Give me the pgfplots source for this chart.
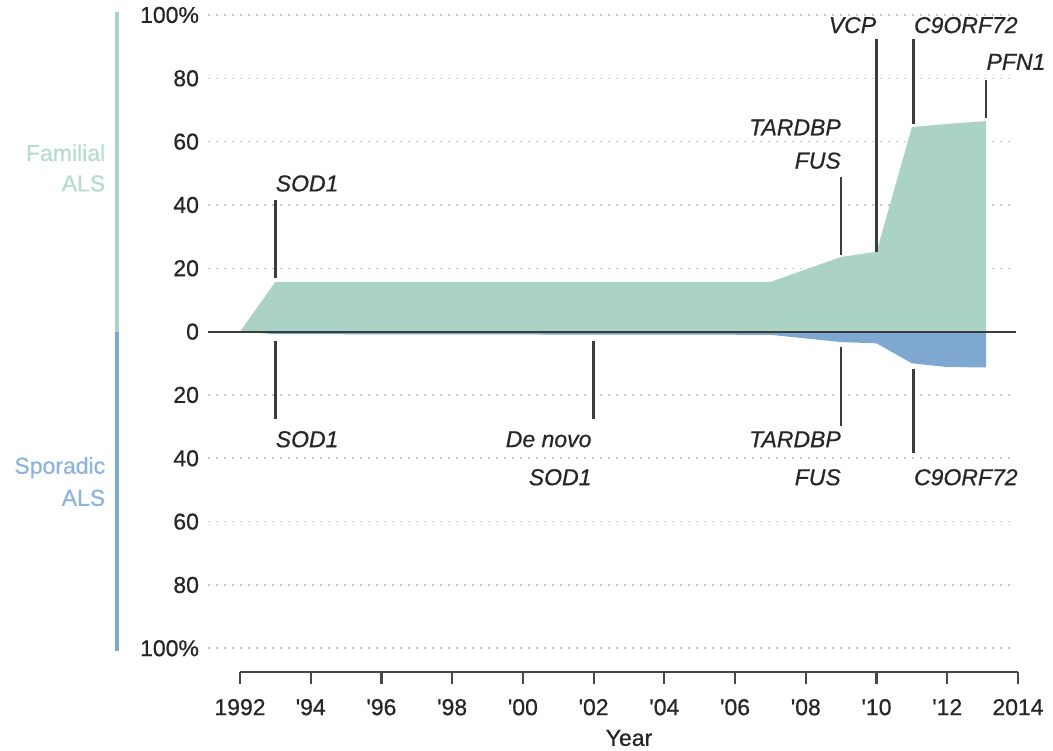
\documentclass[border=0pt]{standalone}
\usepackage{pgfplots}
\pgfplotsset{compat=1.18}
\usepackage{fontspec}
\setmainfont{Liberation Sans}[FakeBold=0.6]
\definecolor{famgreen}{HTML}{ABD3C5}
\definecolor{spblue}{HTML}{7EA8D0}
\definecolor{famtext}{HTML}{B5DCCE}
\definecolor{sptext}{HTML}{8DB4DC}
\definecolor{ink}{HTML}{262626}
\definecolor{gridc}{HTML}{C9C9C9}
\begin{document}
\begin{tikzpicture}
\path[use as bounding box] (-120pt,-39pt) rectangle (406.5pt,336pt);
\begin{axis}[
  scale only axis, width=389pt, height=328.5pt,
  xmin=1992, xmax=2014, ymin=-107.5, ymax=100,
  clip=false,
  axis x line*=bottom, axis y line*=left,
  x axis line style={-, draw=ink!85, line width=1.1pt},
  y axis line style={draw=none},
  xtick={1992,1994,1996,1998,2000,2002,2004,2006,2008,2010,2012,2014},
  xticklabels={1992,\textquotesingle94,\textquotesingle96,\textquotesingle98,\textquotesingle00,\textquotesingle02,\textquotesingle04,\textquotesingle06,\textquotesingle08,\textquotesingle10,\textquotesingle12,2014},
  ytick={-100,-80,-60,-40,-20,0,20,40,60,80,100},
  yticklabels={100\%,80,60,40,20,0,20,40,60,80,100\%},
  ytick style={draw=none},
  xtick style={draw=ink!85, line width=1.1pt},
  tick align=outside, major tick length=6pt,
  ticklabel style={font=\fontsize{11.5}{13}\selectfont, text=ink},
  yticklabel style={xshift=-11pt},
  xticklabel style={yshift=-4pt},
  /pgf/number format/assume math mode=true,
  xlabel={Year},
  xlabel style={font=\fontsize{11.5}{13}\selectfont, text=ink, at={(axis description cs:0.5,0)}, anchor=center, yshift=-33pt},
]
% dotted grid lines
\pgfplotsinvokeforeach{-100,-80,-60,-40,-20,20,40,60,80,100}{
  \draw[gridc, line width=0.8pt, dash pattern=on 0.8pt off 3.2pt] (axis cs:1991.1,#1) -- (axis cs:2013.9,#1);
}
% familial area
\addplot[fill=famgreen, draw=none] coordinates {
  (1992,0) (1993,15.7) (2007,15.7) (2009,23.6) (2010,25.2) (2011,64.6) (2012,65.6) (2013.1,66.5)
} \closedcycle;
% sporadic area
\addplot[fill=spblue, draw=none] coordinates {
  (1992,0) (1993,-0.8) (2007,-1.0) (2009,-3.3) (2010,-3.7) (2011,-10.0) (2012,-11.2) (2013.1,-11.3)
} \closedcycle;
% zero line
\draw[ink!90, line width=1.1pt] (axis cs:1991.1,0) -- (axis cs:2013.95,0);
% left bars
\draw[famgreen, line width=2pt] (axis cs:1988.52,100.8) -- (axis cs:1988.52,0);
\draw[spblue, line width=2pt] (axis cs:1988.52,0) -- (axis cs:1988.52,-100.8);
\node[anchor=east, inner sep=0pt, text=famtext, font=\fontsize{11.5}{13}\selectfont] at (axis cs:1988.2,56.5) {Familial};
\node[anchor=east, inner sep=0pt, text=famtext, font=\fontsize{11.5}{13}\selectfont] at (axis cs:1988.2,46.8) {ALS};
\node[anchor=east, inner sep=0pt, text=sptext, font=\fontsize{11.5}{13}\selectfont] at (axis cs:1988.2,-43.0) {Sporadic};
\node[anchor=east, inner sep=0pt, text=sptext, font=\fontsize{11.5}{13}\selectfont] at (axis cs:1988.2,-52.5) {ALS};
% annotation lines
\draw[ink!90, line width=1.2pt] (axis cs:1993,41.5) -- (axis cs:1993,17);
\draw[ink!90, line width=1.2pt] (axis cs:1993,-2.9) -- (axis cs:1993,-27.5);
\draw[ink!90, line width=1.2pt] (axis cs:2002,-2.9) -- (axis cs:2002,-27.5);
\draw[ink!90, line width=1.2pt] (axis cs:2009,48.8) -- (axis cs:2009,24.2);
\draw[ink!90, line width=1.2pt] (axis cs:2009,-4.8) -- (axis cs:2009,-29.7);
\draw[ink!90, line width=1.2pt] (axis cs:2010,92.3) -- (axis cs:2010,25.3);
\draw[ink!90, line width=1.2pt] (axis cs:2011.05,92.3) -- (axis cs:2011.05,65.5);
\draw[ink!90, line width=1.2pt] (axis cs:2011.05,-11.7) -- (axis cs:2011.05,-38.3);
\draw[ink!90, line width=1.2pt] (axis cs:2013.1,79.6) -- (axis cs:2013.1,67.4);
% annotation labels
\tikzset{ann/.style={inner sep=0pt, text=ink, font=\fontsize{11.5}{13}\selectfont\itshape}}
\node[ann, anchor=west] at (axis cs:1993,46.8) {SOD1};
\node[ann, anchor=west] at (axis cs:1993,-34.0) {SOD1};
\node[ann, anchor=east] at (axis cs:2001.95,-34.0) {De novo};
\node[ann, anchor=east] at (axis cs:2001.95,-46.0) {SOD1};
\node[ann, anchor=east] at (axis cs:2009,64.5) {TARDBP};
\node[ann, anchor=east] at (axis cs:2009,54.0) {FUS};
\node[ann, anchor=east] at (axis cs:2009,-34.0) {TARDBP};
\node[ann, anchor=east] at (axis cs:2009,-46.0) {FUS};
\node[ann, anchor=east] at (axis cs:2010,96.8) {VCP};
\node[ann, anchor=west] at (axis cs:2011.05,96.8) {C9ORF72};
\node[ann, anchor=west] at (axis cs:2011.05,-46.0) {C9ORF72};
\node[ann, anchor=west] at (axis cs:2013.1,85.2) {PFN1};
\end{axis}
\end{tikzpicture}
\end{document}
